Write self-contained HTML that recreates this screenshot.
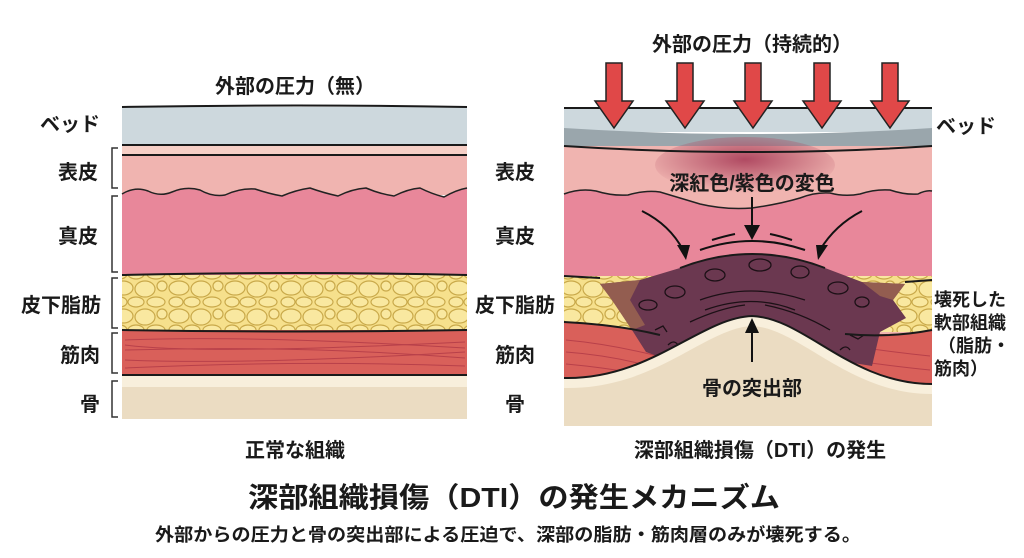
<!DOCTYPE html>
<html><head><meta charset="utf-8"><style>
html,body{margin:0;padding:0;background:#fff;}
svg{display:block;}
text{font-family:"Liberation Sans","Noto Sans CJK JP",sans-serif;font-weight:bold;fill:#1a1a1a;}
</style></head><body>
<svg width="1024" height="558" viewBox="0 0 1024 558" xmlns="http://www.w3.org/2000/svg">
<defs>
<pattern id="fat" width="56" height="28" patternUnits="userSpaceOnUse">
<rect width="56" height="28" fill="#f6e08c"/>
<g fill="#f9e8a0" stroke="#c9a94a" stroke-width="1.2">
<ellipse cx="11" cy="8" rx="10" ry="7"/><ellipse cx="33" cy="9" rx="10" ry="8"/><ellipse cx="50" cy="6" rx="5" ry="5"/>
<ellipse cx="8" cy="22" rx="7" ry="5"/><ellipse cx="24" cy="22" rx="8" ry="5"/><ellipse cx="44" cy="22" rx="9" ry="5"/>
</g></pattern>
<radialGradient id="bruise" cx="0.5" cy="0.4" r="0.6">
<stop offset="0" stop-color="#b04a62"/><stop offset="1" stop-color="#b04a62" stop-opacity="0"/></radialGradient>
</defs>

<!-- LEFT PANEL -->
<text x="295" y="93" font-size="20" text-anchor="middle">外部の圧力（無）</text>
<rect x="122" y="107" width="345" height="38" fill="#cdd8dd"/>
<rect x="122" y="145" width="345" height="10" fill="#f6cfc6"/>
<rect x="122" y="155" width="345" height="40" fill="#f0b4b0"/>
<path d="M122 194 Q135 186 148 191 Q160 197 172 192 Q186 186 200 190 Q212 197 225 195 Q240 188 255 189 Q270 194 282 196 Q296 190 310 188 Q324 193 338 196 Q352 189 366 188 Q380 194 394 196 Q408 189 420 188 Q432 194 444 197 Q456 190 467 188 L467 275 L122 275Z" fill="#e8879a"/>
<path d="M122 194 Q135 186 148 191 Q160 197 172 192 Q186 186 200 190 Q212 197 225 195 Q240 188 255 189 Q270 194 282 196 Q296 190 310 188 Q324 193 338 196 Q352 189 366 188 Q380 194 394 196 Q408 189 420 188 Q432 194 444 197 Q456 190 467 188" fill="none" stroke="#222" stroke-width="1.5"/>
<rect x="122" y="275" width="345" height="55" fill="url(#fat)"/>
<rect x="122" y="330" width="345" height="45" fill="#d9605a"/>
<g stroke="#b8404a" stroke-width="1" fill="none">
<path d="M125 340 Q250 335 465 348"/><path d="M125 350 Q300 345 465 358"/><path d="M125 360 Q250 365 465 352"/><path d="M125 368 Q300 360 465 366"/><path d="M125 345 Q200 355 465 342"/>
</g>
<rect x="122" y="375" width="345" height="12" fill="#f8efdc"/>
<rect x="122" y="387" width="345" height="32" fill="#ebdcc2"/>
<g stroke="#1a1a1a" stroke-width="2" fill="none">
<path d="M122 107 Q300 104 467 107"/><path d="M122 145 L467 145"/><path d="M122 155 L467 155"/>
<path d="M122 275 Q300 271 467 275"/><path d="M122 330 Q300 333 467 330"/><path d="M122 375 L467 375"/>
</g>
<g stroke="#333" stroke-width="1.5" fill="none">
<path d="M118 148 h-6 v40 h6"/><path d="M118 196 h-6 v76 h6"/><path d="M118 278 h-6 v50 h6"/><path d="M118 333 h-6 v40 h6"/><path d="M118 381 h-6 v36 h6"/>
</g>
<g font-size="20" text-anchor="end">
<text x="100" y="131">ベッド</text><text x="98" y="179">表皮</text><text x="98" y="243">真皮</text>
<text x="101" y="312">皮下脂肪</text><text x="100" y="362">筋肉</text><text x="100" y="411">骨</text>
</g>
<g font-size="20" text-anchor="middle">
<text x="515" y="179">表皮</text><text x="515" y="243">真皮</text><text x="515" y="312">皮下脂肪</text><text x="515" y="362">筋肉</text><text x="515" y="411">骨</text>
</g>
<text x="295" y="457" font-size="20" text-anchor="middle">正常な組織</text>

<!-- RIGHT PANEL -->
<text x="752" y="51" font-size="20" text-anchor="middle">外部の圧力（持続的）</text>
<rect x="564" y="108" width="368" height="24" fill="#cdd8dd"/>
<path d="M564 128 Q750 140 932 128 L932 148 L564 148Z" fill="#9aa6ac"/>
<rect x="564" y="146" width="368" height="280" fill="#f0b4b0"/>
<ellipse cx="745" cy="165" rx="90" ry="28" fill="url(#bruise)"/>
<path d="M564 194 Q580 188 596 191 Q612 196 628 195 Q645 190 660 192 Q680 198 700 204 Q725 210 752 208 Q780 204 800 198 Q815 192 830 193 Q845 197 860 194 Q875 189 890 190 Q905 195 918 194 Q926 190 932 191 L932 280 L564 280Z" fill="#e8879a"/>
<path d="M564 194 Q580 188 596 191 Q612 196 628 195 Q645 190 660 192 Q680 198 700 204 Q725 210 752 208 Q780 204 800 198 Q815 192 830 193 Q845 197 860 194 Q875 189 890 190 Q905 195 918 194 Q926 190 932 191" fill="none" stroke="#222" stroke-width="1.5"/>
<rect x="564" y="276" width="368" height="56" fill="url(#fat)"/>
<path d="M564 322 Q620 325 670 335 L700 330 L830 330 Q880 338 932 330 L932 385 L564 385Z" fill="#d9605a"/>
<g stroke="#b8404a" stroke-width="1" fill="none">
<path d="M566 340 Q620 345 680 362"/><path d="M566 352 Q620 356 670 372"/><path d="M566 364 Q610 368 650 376"/><path d="M845 345 Q890 352 930 356"/><path d="M835 358 Q890 366 930 370"/>
</g>
<path d="M680 268 Q752 240 825 268 L862 282 L905 284 L893 300 L906 318 L880 332 L872 366 L835 360 C805 332 780 320 752 320 C725 320 700 335 682 365 L646 352 L632 330 L612 300 L600 284 L640 280Z" fill="#6b3850"/>
<path d="M600 284 L640 280 L630 300 L645 325 L632 330 L612 300Z" fill="#9a6450" opacity="0.85"/>
<path d="M862 282 L905 284 L893 300 L880 296Z" fill="#9a6450" opacity="0.85"/>
<g stroke="#1c1016" stroke-width="1.3" fill="none">
<ellipse cx="675" cy="292" rx="10" ry="6"/><ellipse cx="715" cy="275" rx="10" ry="6"/><ellipse cx="760" cy="265" rx="11" ry="6"/>
<ellipse cx="800" cy="272" rx="9" ry="6"/><ellipse cx="838" cy="288" rx="10" ry="6"/><ellipse cx="862" cy="302" rx="7" ry="5"/>
<ellipse cx="648" cy="305" rx="9" ry="5"/>
<path d="M700 300 Q750 282 805 300"/><path d="M705 310 Q752 293 795 310"/><path d="M690 322 Q720 308 745 305"/><path d="M765 305 Q800 312 830 330"/>
<path d="M655 330 l8 -4 l4 6"/><path d="M850 335 l8 4 l6 -4"/><path d="M668 345 q6 -6 10 0"/><path d="M840 350 q6 -6 10 0"/>
</g>
<path d="M564 378 C650 380 700 318 752 316 C805 318 850 384 932 384 L932 426 L564 426Z" fill="#f8efdc"/>
<path d="M564 388 C655 390 705 328 752 326 C800 328 848 394 932 394 L932 426 L564 426Z" fill="#ebdcc2"/>
<g stroke="#1a1a1a" stroke-width="2" fill="none">
<path d="M564 108 L932 108"/><path d="M564 146 Q750 158 932 146"/>
<path d="M680 268 Q752 240 825 268"/>
<path d="M564 276 L600 278"/><path d="M905 282 L932 280"/>
<path d="M564 322 Q620 325 660 335"/><path d="M845 334 Q890 338 932 330"/>
<path d="M564 378 C650 380 700 318 752 316 C805 318 850 384 932 384"/>
</g>
<g fill="#e04848" stroke="#222" stroke-width="1.5">
<path d="M606 63 h16 v38 h11 l-19 27 l-19 -27 h11z"/><path d="M677 63 h16 v38 h11 l-19 27 l-19 -27 h11z"/>
<path d="M745 63 h16 v38 h11 l-19 27 l-19 -27 h11z"/><path d="M814 63 h16 v38 h11 l-19 27 l-19 -27 h11z"/>
<path d="M882 63 h16 v38 h11 l-19 27 l-19 -27 h11z"/>
</g>
<text x="752" y="190" font-size="20" text-anchor="middle">深紅色/紫色の変色</text>
<g stroke="#111" stroke-width="2" fill="none">
<path d="M752 197 V228"/><path d="M642 211 Q670 225 683 250"/><path d="M862 211 Q835 225 820 250"/><path d="M752 362 V330"/>
<path d="M712 240 Q725 236 735 234"/><path d="M770 234 Q780 236 792 240"/><path d="M700 250 Q752 232 805 250"/>
</g>
<g fill="#111">
<path d="M744 225 L760 225 L752 240Z"/><path d="M677 245 L690 245 L686 260Z"/><path d="M816 245 L828 245 L818 260Z"/><path d="M745 333 L759 333 L752 318Z"/>
</g>
<text x="752" y="395" font-size="20" text-anchor="middle">骨の突出部</text>
<text x="936" y="133" font-size="20">ベッド</text>
<g font-size="18"><text x="934" y="306">壊死した</text><text x="934" y="329">軟部組織</text><text x="938" y="352">（脂肪・</text><text x="934" y="375">筋肉）</text></g>
<text x="760" y="457" font-size="20" text-anchor="middle">深部組織損傷（DTI）の発生</text>

<text x="514" y="507" font-size="28" text-anchor="middle" textLength="532" lengthAdjust="spacingAndGlyphs">深部組織損傷（DTI）の発生メカニズム</text>
<text x="508" y="541" font-size="18" text-anchor="middle" textLength="706" lengthAdjust="spacingAndGlyphs">外部からの圧力と骨の突出部による圧迫で、深部の脂肪・筋肉層のみが壊死する。</text>
</svg>
</body></html>
